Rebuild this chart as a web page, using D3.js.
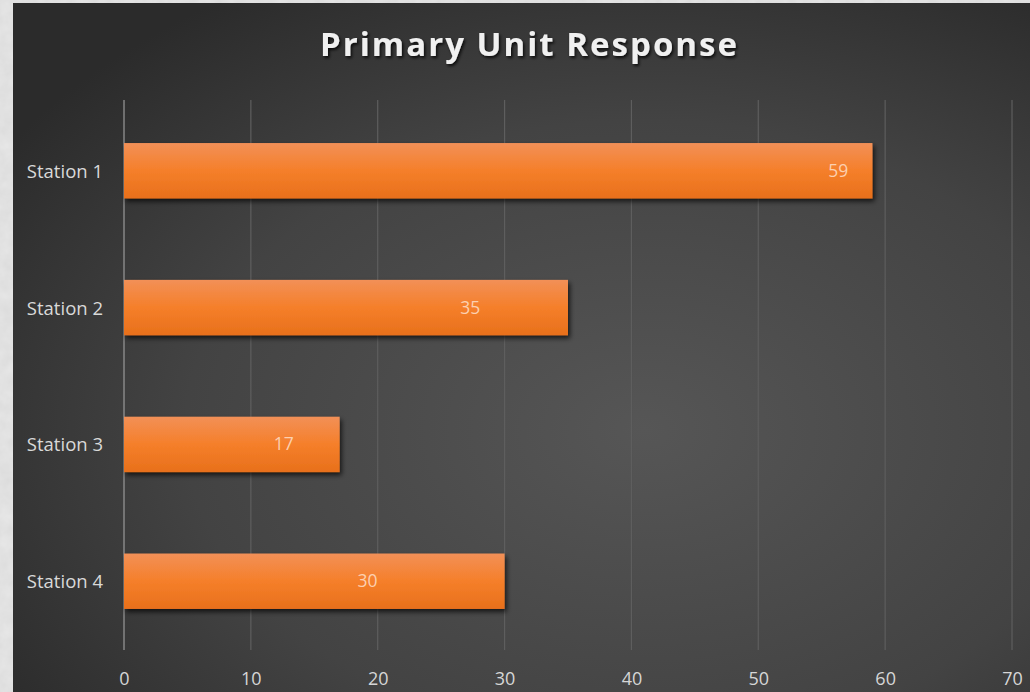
<!DOCTYPE html>
<html><head><meta charset="utf-8">
<script src="https://cdn.jsdelivr.net/npm/d3@7"></script>
<style>html,body{margin:0;padding:0;background:#cfcfcf;overflow:hidden}</style>
</head><body>
<svg id="c" width="1030" height="692"></svg>
<script>
const categories = ["Station 1", "Station 2", "Station 3", "Station 4"];
const values = [59, 35, 17, 30];
const labelAt = [56.3, 27.3, 12.6, 19.2];
const ticks = [0, 10, 20, 30, 40, 50, 60, 70];
const title = "Primary Unit Response";

const svg = d3.select("#c");
const defs = svg.append("defs");

// paper texture border
const tex = defs.append("filter").attr("id","tex");
tex.append("feTurbulence").attr("type","fractalNoise").attr("baseFrequency",0.08).attr("numOctaves",3).attr("result","n");
tex.append("feColorMatrix").attr("type","matrix").attr("values","0 0 0 0 0.82  0 0 0 0 0.82  0 0 0 0 0.82  0 0 0 -0.6 0.9");
svg.append("rect").attr("width",1030).attr("height",692).attr("fill","#d4d4d4");
svg.append("rect").attr("width",1030).attr("height",692).attr("fill","#bbb").attr("filter","url(#tex)");

const bg = defs.append("radialGradient").attr("id","bg").attr("cx","0.62").attr("cy","0.62").attr("r","0.75");
bg.append("stop").attr("offset","0").attr("stop-color","#565656");
bg.append("stop").attr("offset","0.6").attr("stop-color","#434343");
bg.append("stop").attr("offset","1").attr("stop-color","#2b2b2b");
svg.append("rect").attr("x",13).attr("y",3).attr("width",1017).attr("height",689).attr("fill","url(#bg)");

const bar = defs.append("linearGradient").attr("id","bar").attr("x1",0).attr("y1",0).attr("x2",0).attr("y2",1);
bar.append("stop").attr("offset","0").attr("stop-color","#f29057");
bar.append("stop").attr("offset","0.5").attr("stop-color","#f57f2a");
bar.append("stop").attr("offset","1").attr("stop-color","#e8701b");

const sh = defs.append("filter").attr("id","sh").attr("x","-5%").attr("y","-20%").attr("width","115%").attr("height","160%");
sh.append("feDropShadow").attr("dx",2).attr("dy",3).attr("stdDeviation",2.5).attr("flood-color","#000").attr("flood-opacity",0.7);
const tsh = defs.append("filter").attr("id","tsh");
tsh.append("feDropShadow").attr("dx",1.5).attr("dy",2).attr("stdDeviation",1.5).attr("flood-color","#000").attr("flood-opacity",0.8);

const x = d3.scaleLinear().domain([0, 70]).range([124, 1012]);
const y = d3.scaleBand().domain(categories).range([102, 650]).paddingInner(0.595).paddingOuter(0.3);

// gridlines
svg.append("g").selectAll("line").data(ticks).join("line")
  .attr("x1", d => x(d)).attr("x2", d => x(d)).attr("y1", 100).attr("y2", 650)
  .attr("stroke", d => d === 0 ? "#9a9a9a" : "#5e5e5e").attr("stroke-width", 1.2);

// bars
svg.append("g").selectAll("rect").data(values).join("rect")
  .attr("x", x(0)).attr("y", (d,i) => y(categories[i]))
  .attr("width", d => x(d) - x(0)).attr("height", y.bandwidth())
  .attr("fill", "url(#bar)").attr("filter","url(#sh)");

// value labels
svg.append("g").selectAll("text").data(values).join("text")
  .attr("x", (d,i) => x(labelAt[i])).attr("y", (d,i) => y(categories[i]) + y.bandwidth()/2 + 6)
  .attr("text-anchor","middle")
  .attr("font-family","'Open Sans', sans-serif").attr("font-size",17.5)
  .attr("fill","#fcd0b0").text(d => d);

// x axis
const xa = d3.axisBottom(x).tickValues(ticks).tickSize(0).tickPadding(0);
const gx = svg.append("g").attr("transform","translate(0,685)").call(xa);
gx.select(".domain").remove();
gx.selectAll("text").attr("dy","0").attr("y",0).attr("font-family","'Open Sans', sans-serif").attr("font-size",18).attr("fill","#d6d6d6");

// y axis
const ya = d3.axisLeft(y).tickSize(0).tickPadding(0);
const gy = svg.append("g").attr("transform","translate(103,0)").call(ya);
gy.select(".domain").remove();
gy.selectAll("text").attr("dy","0").attr("y",7).attr("font-family","'Open Sans', sans-serif").attr("font-size",18.5).attr("fill","#d9d9d9");

// title
svg.append("text").attr("x",320).attr("y",56)
  .attr("font-family","'Open Sans', sans-serif").attr("font-weight","bold").attr("font-size",33)
  .attr("textLength",417).attr("lengthAdjust","spacing")
  .attr("fill","#f0f0f0").attr("filter","url(#tsh)").text(title);
</script>
</body></html>
